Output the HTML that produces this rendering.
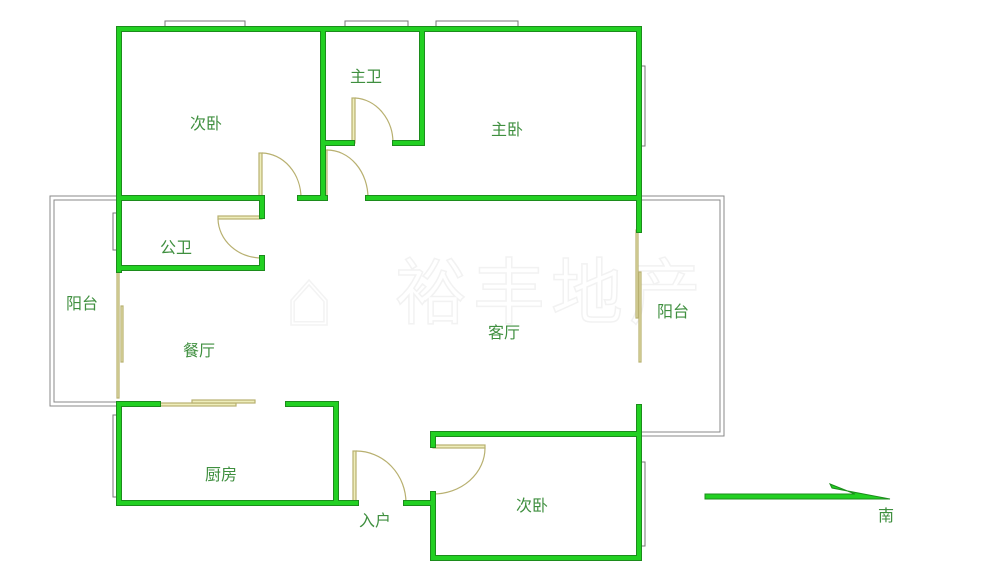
<!DOCTYPE html>
<html><head><meta charset="utf-8"><style>
html,body{margin:0;padding:0;background:#fff;}
svg{display:block}
text{font-family:"Liberation Sans","Noto Sans CJK SC",sans-serif;fill:#3f8f3f;font-size:16px}
</style></head><body>
<svg width="1000" height="563" viewBox="0 0 1000 563">
<!-- watermark -->
<text x="285" y="325" style="font-size:80px;fill:none;stroke:#f3f3f3;stroke-width:1.5">⌂</text>
<text x="395" y="318" style="font-size:72px;fill:none;stroke:#f2f2f2;stroke-width:1.5;letter-spacing:6px">裕丰地产</text>
<!-- balconies -->
<g fill="none" stroke="#888" stroke-width="1">
<path d="M119 196 H50 V406 H119"/><path d="M119 200 H54 V402 H119"/>
<path d="M639 196 H724 V436 H639"/><path d="M639 200 H720 V432 H639"/>
</g>
<!-- windows -->
<g fill="#fff" stroke="#777" stroke-width="1">
<rect x="165" y="21" width="80" height="7"/><rect x="345" y="21" width="63" height="7"/><rect x="436" y="21" width="82" height="7"/>
<rect x="640" y="66" width="5" height="80"/><rect x="113" y="213" width="5" height="37"/>
<rect x="113" y="415" width="5" height="82"/><rect x="640" y="462" width="5" height="84"/>
</g>
<g stroke="#555" stroke-width="2">
<line x1="170" y1="27" x2="240" y2="27"/><line x1="350" y1="27" x2="403" y2="27"/><line x1="441" y1="27" x2="513" y2="27"/>
</g>
<!-- sliding doors / doors -->
<g fill="none" stroke="#b8b070" stroke-width="1.2">
<rect x="117" y="270" width="2" height="128" fill="#eeeebb"/>
<rect x="121" y="306" width="2" height="56" fill="#eeeebb"/>
<rect x="158" y="403" width="78" height="3" fill="#eeeebb"/>
<rect x="192" y="400" width="63" height="3" fill="#eeeebb"/>
<rect x="636" y="230" width="2" height="88" fill="#eeeebb"/>
<rect x="639" y="272" width="2" height="90" fill="#eeeebb"/>
<rect x="352" y="98" width="3" height="45" fill="#eeeebb"/><path d="M355 98 A40 45 0 0 1 393 143"/>
<rect x="259" y="153" width="3" height="45" fill="#eeeebb"/><path d="M262 153 A40 45 0 0 1 301 198"/>
<rect x="324" y="150" width="3" height="48" fill="#eeeebb"/><path d="M327 150 A41 48 0 0 1 368 198"/>
<rect x="218" y="216" width="44" height="3" fill="#eeeebb"/><path d="M218 219 A44 40 0 0 0 262 258"/>
<rect x="353" y="451" width="3" height="52" fill="#eeeebb"/><path d="M356 451 A50 52 0 0 1 406 503"/>
<rect x="433" y="445" width="52" height="3" fill="#eeeebb"/><path d="M485 448 A52 46 0 0 1 433 494"/>
</g>
<!-- walls -->
<g fill="none" stroke="#1c8c1c" stroke-width="6" stroke-linecap="square">
<path d="M119 29 H639 V230 M119 29 V270 M323 29 V198 M422 29 V143 H395 M323 143 H352 M119 198 H262 M300 198 H325 M368 198 H639 M262 198 V216 M262 258 V268 H119 M119 404 H158 M288 404 H336 V503 M119 404 V503 H356 M406 503 H433 V558 H639 V407 M433 494 V558 M433 445 V434 H639"/>
</g>
<g fill="none" stroke="#22d022" stroke-width="4" stroke-linecap="square">
<path d="M119 29 H639 V230 M119 29 V270 M323 29 V198 M422 29 V143 H395 M323 143 H352 M119 198 H262 M300 198 H325 M368 198 H639 M262 198 V216 M262 258 V268 H119 M119 404 H158 M288 404 H336 V503 M119 404 V503 H356 M406 503 H433 V558 H639 V407 M433 494 V558 M433 445 V434 H639"/>
</g>
<!-- south arrow -->
<polygon points="705,494 855,494 830,484 832,488 890,499 705,499" fill="#22d022" stroke="#1c8c1c" stroke-width="1"/>
<!-- labels -->
<text x="190" y="129">次卧</text>
<text x="350" y="82">主卫</text>
<text x="491" y="135">主卧</text>
<text x="160" y="253">公卫</text>
<text x="66" y="309">阳台</text>
<text x="183" y="356">餐厅</text>
<text x="488" y="338">客厅</text>
<text x="657" y="317">阳台</text>
<text x="205" y="480">厨房</text>
<text x="359" y="526">入户</text>
<text x="516" y="511">次卧</text>
<text x="878" y="521">南</text>
</svg>
</body></html>
